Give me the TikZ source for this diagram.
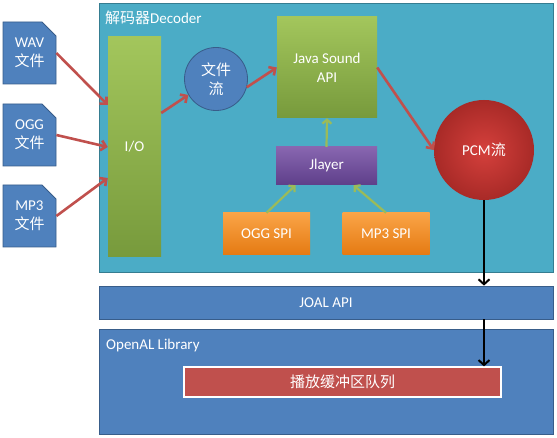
\documentclass[tikz,border=0pt]{standalone}
\usepackage{fontspec}
\setmainfont{Carlito}
\newfontfamily\cjk{Noto Sans CJK SC}
\usetikzlibrary{arrows.meta,calc,positioning,shapes.misc}
\definecolor{decoderbg}{HTML}{4BACC6}
\definecolor{decoderln}{HTML}{357D91}
\definecolor{layerbg}{HTML}{4F81BD}
\definecolor{layerln}{HTML}{385D8A}
\definecolor{greenhi}{HTML}{A3C65C}
\definecolor{greenlo}{HTML}{779A3C}
\definecolor{purplehi}{HTML}{8866B0}
\definecolor{purplelo}{HTML}{5E3F8A}
\definecolor{orangehi}{HTML}{FAA447}
\definecolor{orangelo}{HTML}{E57A12}
\definecolor{redhi}{HTML}{D5403C}
\definecolor{redlo}{HTML}{A82A27}
\definecolor{queuebg}{HTML}{C0504D}
\definecolor{flowred}{HTML}{C0504D}
\definecolor{flowgreen}{HTML}{9BBB59}
\tikzset{
	every node/.style={font=\fontsize{15}{19}\selectfont, text=white, inner sep=0pt, align=center},
	panel/.style={draw=decoderln, fill=decoderbg, line width=0.8pt,
		minimum width=454pt, minimum height=#1},
	layer/.style={draw=layerln, fill=layerbg, line width=0.8pt,
		minimum width=454pt, minimum height=#1},
	file/.style={chamfered rectangle, chamfered rectangle corners=north east,
		chamfered rectangle xsep=7pt, chamfered rectangle ysep=7pt,
		draw=layerln, fill=layerbg, line width=0.8pt,
		minimum width=53pt, minimum height=62pt},
	greenbox/.style={top color=greenhi, bottom color=greenlo, draw=none},
	purplebox/.style={top color=purplehi, bottom color=purplelo, draw=none},
	orangebox/.style={top color=orangehi, bottom color=orangelo, draw=none,
		minimum width=87pt, minimum height=42pt},
	redflow/.style={draw=flowred, line width=2.6pt, -{Straight Barb[length=5pt,width=10pt]}},
	greenflow/.style={draw=flowgreen, line width=2.2pt, -{Straight Barb[length=4pt,width=9pt]}},
	blackflow/.style={draw=black, line width=2pt, -{Straight Barb[length=5pt,width=11pt]}}
}
\begin{document}
\begin{tikzpicture}[x=1pt,y=-1pt]
   \useasboundingbox (0,0) rectangle (557,438);
   % decoder panel and the two lower layers
   \node[panel=269pt] (decoder) at (326,137.5) {};
   \node[anchor=west] at (105,18) {{\cjk 解码器}Decoder};
   \node[layer=33pt] (joal) at (326,302.5) {JOAL API};
   \node[layer=105pt] (openal) at (326,381.5) {};
   \node[anchor=west] at (106,346) {OpenAL Library};
   \node[draw=white, line width=1.2pt, fill=queuebg, minimum width=317pt, minimum height=30pt]
      (queue) at (342.5,382) {\cjk 播放缓冲区队列};
   % input files
   \node[file] (wav) at (29.5,53)  {WAV\\{\cjk 文件}};
   \node[file] (ogg) at (29.5,135) {OGG\\{\cjk 文件}};
   \node[file] (mp3) at (29.5,216) {MP3\\{\cjk 文件}};
   % decoder parts
   \node[greenbox, minimum width=53pt, minimum height=220pt] (io) at (134.5,147) {I/O};
   \node[circle, draw=layerln, fill=layerbg, line width=0.8pt, minimum size=63pt]
      (flow) at (216,79) {{\cjk 文件}\\{\cjk 流}};
   \node[greenbox, minimum width=100pt, minimum height=101pt] (java) at (327,67.5) {Java Sound\\API};
   \node[purplebox, minimum width=101pt, minimum height=38pt] (jlayer) at (326.5,166) {Jlayer};
   \node[orangebox] (oggspi) at (266.5,234) {OGG SPI};
   \node[orangebox] (mp3spi) at (386,234) {MP3 SPI};
   \node[circle, inner color=redhi, outer color=redlo, minimum size=100pt]
      (pcm) at (484,150) {PCM{\cjk 流}};
   % connectors
   \draw[redflow] (wav.east) -- ([yshift=42pt]io.west);
   \draw[redflow] (ogg.east) -- (io.west);
   \draw[redflow] (mp3.east) -- ([yshift=-31pt]io.west);
   \draw[redflow] ([yshift=34pt]io.east) -- (flow.210);
   \draw[redflow] (flow.-15) -- (java.west);
   \draw[redflow] (java.east) -- (pcm.west);
   \draw[greenflow] (jlayer.north) -- (java.south);
   \draw[greenflow] (oggspi.north) -- ([xshift=-31pt]jlayer.south);
   \draw[greenflow] (mp3spi.north) -- ([xshift=27pt]jlayer.south);
   \draw[blackflow] (pcm.south) -- (pcm.south |- joal.north);
   \draw[blackflow] (pcm.south |- joal.south) -- (pcm.south |- queue.north);
\end{tikzpicture}
\end{document}
